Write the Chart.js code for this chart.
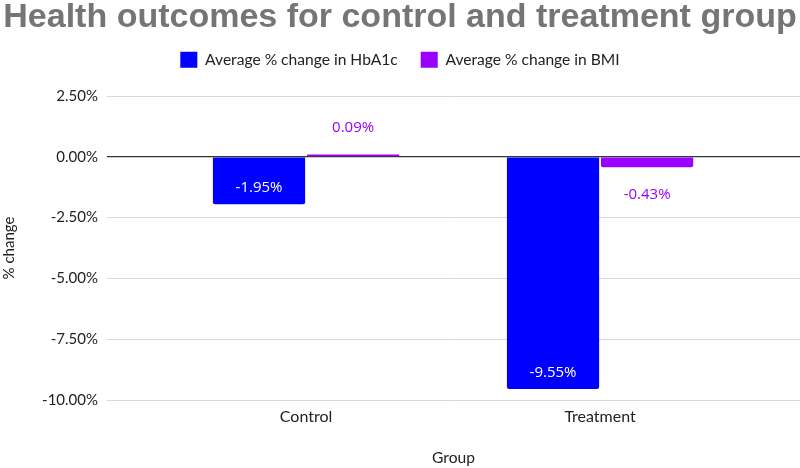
<!DOCTYPE html>
<html>
<head>
<meta charset="utf-8">
<script src="https://cdn.jsdelivr.net/npm/chart.js@4"></script>
<style>
html,body{margin:0;padding:0;background:#fff;}
#wrap{width:800px;height:468px;}
</style>
</head>
<body>
<div id="wrap"><canvas id="c" width="800" height="468"></canvas></div>
<script>
const titleText = 'Health outcomes for control and treatment group';
const categories = ['Control', 'Treatment'];
const hba1cLabel = 'Average % change in HbA1c';
const bmiLabel = 'Average % change in BMI';
const hba1c = [-1.95, -9.55];
const bmi = [0.09, -0.43];
const yTicks = [2.5, 0, -2.5, -5, -7.5, -10];

const BLUE = '#0000ff';
const PURPLE = '#9900ff';
const FONT = "Lato, 'Open Sans', sans-serif";
const LFONT = "'Open Sans', sans-serif";

const labelPlugin = {
  id: 'valLabels',
  afterDatasetsDraw(chart) {
    const ctx = chart.ctx;
    ctx.save();
    ctx.font = "15px " + LFONT;
    ctx.textAlign = 'center';
    ctx.textBaseline = 'middle';
    chart.data.datasets.forEach((ds, di) => {
      const meta = chart.getDatasetMeta(di);
      meta.data.forEach((el, i) => {
        const v = ds.data[i].y;
        const txt = v.toFixed(2) + '%';
        let y;
        if (di === 0) {
          ctx.fillStyle = '#ffffff';
          y = v < 0 ? el.y - 16 : el.y + 16;
        } else {
          ctx.fillStyle = PURPLE;
          y = v < 0 ? el.y + 27 : el.y - 27;
        }
        ctx.fillText(txt, el.x, y);
      });
    });
    ctx.restore();
  }
};

new Chart(document.getElementById('c'), {
  type: 'bar',
  data: {
    datasets: [
      { label: hba1cLabel, data: hba1c.map((v, i) => ({ x: i, y: v })), backgroundColor: BLUE, borderRadius: 2, borderSkipped: 'start' },
      { label: bmiLabel, data: bmi.map((v, i) => ({ x: i, y: v })), backgroundColor: PURPLE, borderRadius: 2, borderSkipped: 'start' }
    ]
  },
  options: {
    responsive: false,
    animation: false,
    layout: { padding: 0 },
    datasets: { bar: { categoryPercentage: 0.64, barPercentage: 0.98 } },
    plugins: {
      title: {
        display: true, text: titleText, color: '#757575',
        font: { family: "'Liberation Sans', Arial, sans-serif", size: 34, weight: 'bold' },
        padding: { top: -3, bottom: -9 }
      },
      subtitle: {
        display: true, text: ' ', weight: 500, position: 'top',
        font: { size: 1 }, padding: { top: 17, bottom: 0 }
      },
      legend: {
        display: true,
        labels: {
          boxWidth: 17, boxHeight: 16, color: '#222', padding: 23,
          font: { family: FONT, size: 15.6 }
        }
      },
      tooltip: { enabled: false }
    },
    scales: {
      x: {
        type: 'linear', min: -0.677, max: 1.68, offset: false,
        grid: { display: false }, border: { display: false },
        afterBuildTicks: (s) => { s.ticks = categories.map((c, i) => ({ value: i })); },
        ticks: { color: '#222', font: { family: FONT, size: 16 }, padding: -1,
          callback: (v) => categories[v] },
        title: { display: true, text: 'Group', color: '#222', font: { family: FONT, size: 15.6 }, padding: { top: 4, bottom: 1 } },
        afterFit: (s) => { s.height = 68; }
      },
      y: {
        min: -10, max: 2.5,
        afterBuildTicks: (s) => { s.ticks = yTicks.map(v => ({ value: v })); },
        grid: {
          drawTicks: false,
          color: (c) => c.tick && c.tick.value === 0 ? '#333333' : '#d9d9d9',
          lineWidth: (c) => c.tick && c.tick.value === 0 ? 1.3 : 1
        },
        border: { display: false },
        ticks: { color: '#222', font: { family: FONT, size: 15 }, padding: 9,
          callback: (v) => v.toFixed(2) + '%' },
        title: { display: true, text: '% change', color: '#222', font: { family: FONT, size: 15 }, padding: 0 },
        afterFit: (s) => { s.width = 107; }
      }
    }
  },
  plugins: [labelPlugin]
});
</script>
</body>
</html>
